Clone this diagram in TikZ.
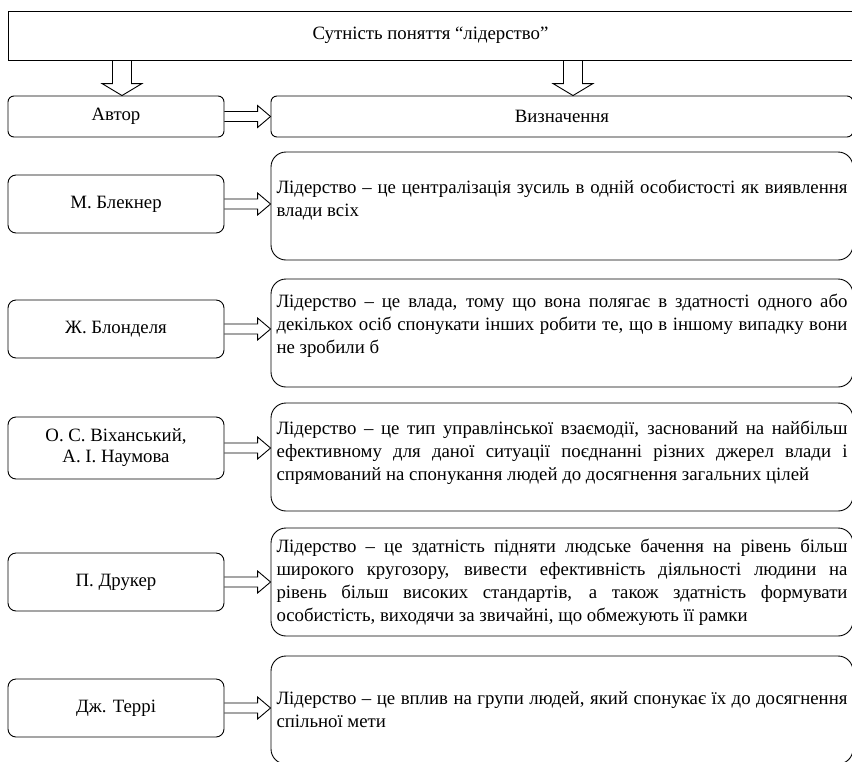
\documentclass[tikz,border=0pt]{standalone}
\usepackage{fontspec}
\setmainfont{Liberation Serif}
\usetikzlibrary{calc}

% hollow arrow from box #1 to box #2 (horizontal)
\newcommand{\rarrow}[2]{%
  \draw[fatarrow] ($(#1.east)+(0,-5)$) -- ($(#1.east -| #2.west)+(-13,-5)$) -- ++(0,-6)
    -- (#1.east -| #2.west) -- ++(-13,11) -- ++(0,-6) -- ($(#1.east)+(0,5)$);}
% hollow arrow down at x of #1 from box #2 to box #3
\newcommand{\dnarrow}[3]{%
  \draw[fatarrow] ($(#1 |- #2.south)+(-9.5,0)$) -- ($(#1 |- #3.north)+(-9.5,-12)$) -- ++(-10.5,0)
    -- (#1 |- #3.north) -- ++(20,-12) -- ++(-10.5,0) -- ($(#1 |- #2.south)+(9.5,0)$);}
% extra room under a text, to lift it in its box
\newcommand{\lift}[1]{\par\vspace{#1}\hrule height 0pt}

\begin{document}
\begin{tikzpicture}[x=1pt,y=-1pt,line width=0.9pt,
    titlebox/.style={draw, minimum width=845pt, minimum height=49pt, inner sep=0pt, font=\fontsize{18.8}{21}\selectfont},
    headbox/.style={draw, rounded corners=6pt, minimum height=41pt, inner sep=0pt, font=\fontsize{18.8}{21}\selectfont},
    authorbox/.style={draw, rounded corners=8pt, minimum width=216pt, minimum height=58pt, inner sep=0pt, align=center, font=\fontsize{18.8}{21}\selectfont},
    defbox/.style={draw, rounded corners=15pt, text width=571pt, minimum height=108pt, inner xsep=5.5pt, align=justify, font=\fontsize{18.8}{23}\selectfont},
    fatarrow/.style={line join=miter}]
  \useasboundingbox (0,0) rectangle (852,761);
  \clip (0,0) rectangle (852,761);

  % header
  \node[titlebox] (title) at (430.5,35.5) {Сутність поняття “лідерство”};
  \node[headbox, minimum width=216pt] (author) at (116,116.5) {Автор};
  \node[headbox, minimum width=582pt] (defn) at (562,116.5) {Визначення};
  \coordinate (xa) at (122,0);
  \coordinate (xd) at (573,0);
  \dnarrow{xa}{title}{author}
  \dnarrow{xd}{title}{defn}
  \rarrow{author}{defn}

  % rows
  \node[authorbox] (a1) at (116,204) {М. Блекнер};
  \node[defbox] (d1) at (562,206) {Лідерство – це централізація зусиль в одній особистості як виявлення\linebreak влади всіх\lift{12pt}};
  \node[authorbox] (a2) at (116,329) {Ж. Блонделя};
  \node[defbox] (d2) at (562,333) {Лідерство – це влада, тому що вона полягає в здатності одного або\linebreak декількох осіб спонукати інших робити те, що в іншому випадку вони\linebreak не зробили б\lift{14pt}};
  \node[authorbox, minimum height=62pt] (a3) at (116,448) {О. С. Віханський,\\ А. І. Наумова};
  \node[defbox] (d3) at (562,457) {Лідерство – це тип управлінської взаємодії, заснований на найбільш\linebreak ефективному для даної ситуації поєднанні різних джерел влади і\linebreak спрямований на спонукання людей до досягнення загальних цілей\lift{8pt}};
  \node[authorbox] (a4) at (116,582) {П. Друкер};
  \node[defbox] (d4) at (562,582) {Лідерство – це здатність підняти людське бачення на рівень більш\linebreak широкого кругозору, вивести ефективність діяльності людини на\linebreak рівень більш високих стандартів, а також здатність формувати\linebreak особистість, виходячи за звичайні, що обмежують її рамки};
  \node[authorbox] (a5) at (116,708) {Дж. Террі};
  \node[defbox] (d5) at (562,710) {Лідерство – це вплив на групи людей, який спонукає їх до досягнення\linebreak спільної мети};

  \foreach \i in {1,...,5} {\rarrow{a\i}{d\i}}
\end{tikzpicture}
\end{document}
